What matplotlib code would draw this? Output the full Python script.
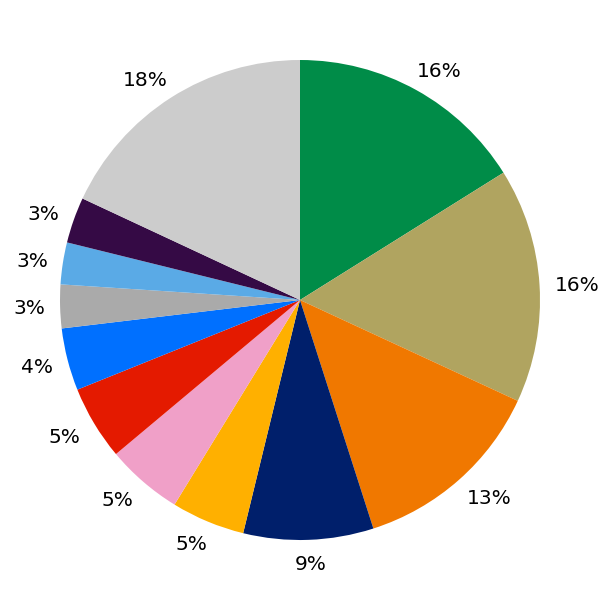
import matplotlib
matplotlib.use("Agg")
import matplotlib.pyplot as plt
import numpy as np

values = [16.1, 15.8, 13.15, 8.75, 4.95, 5.15, 5.0, 4.2, 2.93, 2.82, 3.09, 18.05]
labels = ["16%", "16%", "13%", "9%", "5%", "5%", "5%", "4%", "3%", "3%", "3%", "18%"]
colors = ["#008C48", "#B0A460", "#F07800", "#001F6B", "#FFB000", "#F0A0C8",
          "#E41A00", "#0070FF", "#AAAAAA", "#5AAAE6", "#350A45", "#CCCCCC"]

FS = 14.5

fig = plt.figure(figsize=(6, 6), dpi=100)
ax = fig.add_axes([0, 0, 1, 1])
wedges, texts = ax.pie(values, colors=colors, startangle=90, counterclock=False,
                       wedgeprops=dict(linewidth=0))
ax.set_xlim(-1.25, 1.25)
ax.set_ylim(-1.25, 1.25)
ax.set_aspect("equal")
ax.axis("off")

fig.canvas.draw()
renderer = fig.canvas.get_renderer()
ppu = ax.transData.transform((1, 0))[0] - ax.transData.transform((0, 0))[0]
cap = 0.729 * FS * 100 / 72  # cap height in px
for w, lab in zip(wedges, labels):
    ang = np.deg2rad((w.theta1 + w.theta2) / 2)
    dx, dy = np.cos(ang), np.sin(ang)
    t = ax.text(0, 0, lab, ha="center", va="baseline", fontsize=FS,
                color="#000000")
    bb = t.get_window_extent(renderer)
    a = 255 + bb.width / 2 + 14 * dy * dy
    b = 263
    cx = a * dx / ppu
    cy = b * dy / ppu
    t.set_position((cx, cy - cap / 2 / ppu))

fig.savefig("out.png", dpi=100)
